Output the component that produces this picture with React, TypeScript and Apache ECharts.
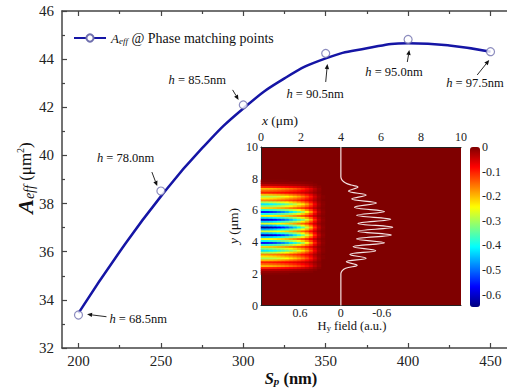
import React, { useEffect, useRef } from 'react';
import * as echarts from 'echarts';

const FONT = 'Liberation Serif';

// ---- main plot data ----
const spacing = [200, 250, 300, 350, 400, 450];
const aeffPoints = [33.37, 38.52, 42.1, 44.24, 44.82, 44.31];
const hLabels = ['68.5', '78.0', '85.5', '90.5', '95.0', '97.5'];
const fitX = [200, 225, 250, 275, 300, 325, 350, 375, 400, 425, 450];
const fitY = [33.45, 36.0, 38.3, 40.3, 41.95, 43.2, 44.03, 44.45, 44.66, 44.57, 44.31];
const xTicks = [200, 250, 300, 350, 400, 450];
const xMinorTicks = [225, 275, 325, 375, 425];

// ---- inset data ----
const fieldTicks = [0.6, 0, -0.6];
const colorbarTicks = [0, -0.1, -0.2, -0.3, -0.4, -0.5, -0.6];
const profileY = [10, 8.1, 7.9, 7.73, 7.6, 7.48, 7.22, 6.97, 6.72, 6.47, 6.2, 5.93, 5.69, 5.44, 5.18, 4.93, 4.69, 4.45, 4.2, 3.96, 3.71, 3.46, 3.22, 2.98, 2.76, 2.54, 2.35, 2.2, 2.0, 0];
const profileHy = [0, 0, -0.02, -0.07, -0.15, -0.25, -0.11, -0.37, -0.16, -0.52, -0.2, -0.64, -0.23, -0.73, -0.25, -0.76, -0.25, -0.74, -0.23, -0.64, -0.18, -0.51, -0.13, -0.37, -0.08, -0.24, -0.07, -0.02, 0, 0];
// heatmap: 50 columns (0.2 um) x 82 rows (10/82 um)
const HEAT_COLS = 50;
const HEAT_ROWS = 82;
const ROW_START = 16;
const rowProfile = [
  -0.005, -0.015, -0.04, -0.1,
  -0.2, -0.15, -0.1, -0.2,
  -0.3, -0.23, -0.17, -0.3,
  -0.42, -0.32, -0.22, -0.39,
  -0.56, -0.4, -0.25, -0.44,
  -0.62, -0.45, -0.27, -0.46,
  -0.64, -0.46, -0.27, -0.44,
  -0.6, -0.43, -0.25, -0.4,
  -0.56, -0.39, -0.22, -0.32,
  -0.42, -0.3, -0.17, -0.23,
  -0.3, -0.2, -0.1, -0.15,
  -0.2, -0.1, -0.04, -0.015, -0.005,
];
const colEnvelope = [1.0, 0.99, 0.97, 0.94, 0.9, 0.86, 0.81, 0.75, 0.69, 0.62, 0.54, 0.44, 0.32, 0.18, 0.07, 0.02];

const jet = ['#00007f', '#0000ff', '#007fff', '#00ffff', '#7fff7f', '#ffff00', '#ff7f00', '#ff0000', '#7f0000'];

// annotation layout (pixel offsets from each point)
const annot = [
  { t: [31, 4], a: [28, 1.7], b: [8.6, -0.7] },
  { t: [-64, -33], a: [-9, -19], b: [-3.7, -5] },
  { t: [-74.7, -25], a: [-10.7, -15], b: [-4.7, -5] },
  { t: [-39.3, 40.6], a: [0, 28.6], b: [1.7, 10.6] },
  { t: [-42.8, 32.6], a: [-0.8, 22.6], b: [1.2, 10.6] },
  { t: [-44.3, 31.3], a: [-13.3, 23.3], b: [-1.3, 8.3] },
];

const AX = '#444';

export default function App() {
  const ref = useRef<HTMLDivElement>(null);
  useEffect(() => {
    document.body.style.margin = '0';
    const chart = echarts.init(ref.current!, null, { renderer: 'svg' });

    const heatData: number[][] = [];
    rowProfile.forEach((rv, k) => {
      colEnvelope.forEach((cv, j) => {
        const v = rv * cv;
        if (v < -0.004) heatData.push([j, ROW_START + k, v]);
      });
    });
    const xCats = Array.from({ length: HEAT_COLS }, (_, i) => String(i));
    const yCats = Array.from({ length: HEAT_ROWS }, (_, i) => String(i));

    const lbl = { fontFamily: FONT, color: '#222' };

    chart.setOption({
      animation: false,
      backgroundColor: '#fff',
      textStyle: { fontFamily: FONT },
      grid: [
        { left: 62, top: 11, width: 451, height: 337 },
        { left: 261, top: 147, width: 200, height: 158.5, show: true, backgroundColor: '#7f0000', borderWidth: 0 },
        { left: 470, top: 147, width: 10, height: 160 },
      ],
      legend: {
        data: ['Aeff'],
        left: 73,
        top: 31,
        padding: 0,
        itemWidth: 32,
        itemHeight: 9,
        formatter: () => '{a|A}{b|eff}{c| @ Phase matching points}',
        textStyle: {
          fontFamily: FONT,
          fontSize: 14,
          color: '#111',
          rich: {
            a: { fontFamily: FONT, fontStyle: 'italic', fontSize: 13, color: '#111' },
            b: { fontFamily: FONT, fontStyle: 'italic', fontSize: 9, color: '#111', padding: [5, 0, 0, 0] },
            c: { fontFamily: FONT, fontSize: 14, color: '#111' },
          },
        },
      },
      visualMap: {
        type: 'continuous',
        min: -0.65,
        max: 0,
        seriesIndex: 2,
        orient: 'vertical',
        left: 470,
        top: 147,
        itemWidth: 10,
        itemHeight: 160,
        padding: 0,
        calculable: false,
        hoverLink: false,
        inRange: { color: jet },
      },
      xAxis: [
        {
          type: 'value', gridIndex: 0, min: 190, max: 460, position: 'bottom',
          axisLine: { show: true, onZero: false, lineStyle: { color: AX, width: 1.5 } },
          axisTick: { show: true, inside: true, length: 5, customValues: xTicks, lineStyle: { color: AX, width: 1.2 } },
          axisLabel: { customValues: xTicks, fontSize: 15, margin: 5, ...lbl },
          splitLine: { show: false },
        },
        {
          type: 'value', gridIndex: 0, min: 190, max: 460, position: 'top',
          axisLine: { show: true, onZero: false, lineStyle: { color: AX, width: 1.5 } },
          axisTick: { show: true, inside: true, length: 5, customValues: xTicks, lineStyle: { color: AX, width: 1.2 } },
          axisLabel: { show: false },
          splitLine: { show: false },
        },
        {
          type: 'value', gridIndex: 0, min: 190, max: 460, position: 'bottom',
          axisLine: { show: false, onZero: false },
          axisTick: { show: true, inside: true, length: 3, customValues: xMinorTicks, lineStyle: { color: AX, width: 1.2 } },
          axisLabel: { show: false },
          splitLine: { show: false },
        },
        {
          type: 'value', gridIndex: 0, min: 190, max: 460, position: 'top',
          axisLine: { show: false, onZero: false },
          axisTick: { show: true, inside: true, length: 3, customValues: xMinorTicks, lineStyle: { color: AX, width: 1.2 } },
          axisLabel: { show: false },
          splitLine: { show: false },
        },
        {
          type: 'value', gridIndex: 1, min: 0, max: 10, interval: 2, position: 'top',
          axisLine: { show: true, onZero: false, lineStyle: { color: '#222', width: 1 } },
          axisTick: { show: false },
          axisLabel: { fontSize: 12, margin: 4, ...lbl },
          splitLine: { show: false },
        },
        {
          type: 'value', gridIndex: 1, min: -1.76, max: 1.17, inverse: true, position: 'bottom',
          axisLine: { show: true, onZero: false, lineStyle: { color: '#222', width: 1 } },
          axisTick: { show: false },
          axisLabel: {
            customValues: fieldTicks, fontSize: 12, margin: 1, ...lbl,
            formatter: (v: number) => (v === 0 ? '0' : v.toFixed(1)),
          },
          splitLine: { show: false },
        },
        { type: 'category', gridIndex: 1, data: xCats, show: false },
        { type: 'value', gridIndex: 2, show: false, min: 0, max: 1 },
      ],
      yAxis: [
        {
          type: 'value', gridIndex: 0, min: 32, max: 46, interval: 2,
          axisLine: { show: true, onZero: false, lineStyle: { color: AX, width: 1.5 } },
          axisTick: { show: true, inside: true, length: 5, lineStyle: { color: AX, width: 1.2 } },
          minorTick: { show: true, splitNumber: 2, length: 3, lineStyle: { color: AX, width: 1.2 } },
          axisLabel: { fontSize: 15, margin: 8, ...lbl },
          splitLine: { show: false },
          minorSplitLine: { show: false },
        },
        {
          type: 'value', gridIndex: 1, min: 0, max: 10, interval: 2,
          axisLine: { show: true, onZero: false, lineStyle: { color: '#222', width: 1 } },
          axisTick: { show: false },
          axisLabel: { fontSize: 12, margin: 3, ...lbl },
          splitLine: { show: false },
        },
        { type: 'category', gridIndex: 1, data: yCats, show: false },
        {
          type: 'value', gridIndex: 2, min: -0.65, max: 0, position: 'right',
          axisLine: { show: false },
          axisTick: { show: false },
          axisLabel: {
            customValues: colorbarTicks, fontSize: 12, margin: 2, ...lbl,
            formatter: (v: number) => (v === 0 ? '0' : v.toFixed(1)),
          },
          splitLine: { show: false },
        },
      ],
      series: [
        {
          name: 'Aeff',
          type: 'line',
          xAxisIndex: 0,
          yAxisIndex: 0,
          data: fitX.map((x, i) => [x, fitY[i]]),
          smooth: true,
          symbol: 'circle',
          showSymbol: false,
          lineStyle: { color: '#1515a5', width: 2.5 },
          itemStyle: { color: '#fff', borderColor: '#6f6fae', borderWidth: 1.2 },
          z: 3,
          silent: true,
        },
        {
          type: 'scatter',
          xAxisIndex: 0,
          yAxisIndex: 0,
          data: spacing.map((x, i) => [x, aeffPoints[i]]),
          symbol: 'circle',
          symbolSize: 8,
          itemStyle: { color: '#fff', borderColor: '#6f6fae', borderWidth: 1.2 },
          z: 4,
          silent: true,
        },
        {
          type: 'heatmap',
          xAxisIndex: 6,
          yAxisIndex: 2,
          data: heatData,
          silent: true,
          emphasis: { disabled: true },
        },
        {
          type: 'line',
          xAxisIndex: 5,
          yAxisIndex: 1,
          data: profileHy.map((h, i) => [h, profileY[i]]),
          smooth: 0.4,
          showSymbol: false,
          symbol: 'none',
          lineStyle: { color: '#f4e2e2', width: 1.2 },
          z: 5,
          silent: true,
        },
      ],
    });

    // graphics: titles and annotations
    const g: any[] = [];
    const rt = (o: any) => ({ fontFamily: FONT, fill: '#111', ...o });
    g.push({
      type: 'text', x: 25, y: 178, rotation: Math.PI / 2,
      style: {
        text: '{a|A}{b|eff}{c| (μm}{d|2}{c|)}', align: 'center', verticalAlign: 'middle',
        rich: {
          a: rt({ fontSize: 22, fontWeight: 'bold', fontStyle: 'italic' }),
          b: rt({ fontSize: 14, fontStyle: 'italic', padding: [9, 0, 0, 0] }),
          c: rt({ fontSize: 17 }),
          d: rt({ fontSize: 10, padding: [0, 0, 9, 0] }),
        },
      },
    });
    g.push({
      type: 'text', x: 291, y: 378,
      style: {
        text: '{a|S}{b|p}{c| (nm)}', align: 'center', verticalAlign: 'middle',
        rich: {
          a: rt({ fontSize: 16.5, fontWeight: 'bold', fontStyle: 'italic' }),
          b: rt({ fontSize: 11, fontWeight: 'bold', fontStyle: 'italic', padding: [6, 0, 0, 0] }),
          c: rt({ fontSize: 16.5, fontWeight: 'bold' }),
        },
      },
    });
    g.push({
      type: 'text', x: 280, y: 120,
      style: {
        text: '{a|x}{c| (μm)}', align: 'center', verticalAlign: 'middle',
        rich: { a: rt({ fontSize: 13.5, fontStyle: 'italic' }), c: rt({ fontSize: 13.5 }) },
      },
    });
    g.push({
      type: 'text', x: 233, y: 226, rotation: Math.PI / 2,
      style: {
        text: '{a|y}{c| (μm)}', align: 'center', verticalAlign: 'middle',
        rich: { a: rt({ fontSize: 13.5, fontStyle: 'italic' }), c: rt({ fontSize: 13.5 }) },
      },
    });
    g.push({
      type: 'text', x: 352, y: 326,
      style: {
        text: '{a|H}{b|y}{c| field (a.u.)}', align: 'center', verticalAlign: 'middle',
        rich: {
          a: rt({ fontSize: 12.5 }),
          b: rt({ fontSize: 8.5, padding: [4, 0, 0, 0] }),
          c: rt({ fontSize: 12.5 }),
        },
      },
    });

    spacing.forEach((x, i) => {
      const p = chart.convertToPixel({ xAxisIndex: 0, yAxisIndex: 0 }, [x, aeffPoints[i]]) as number[];
      const an = annot[i];
      g.push({
        type: 'text', x: p[0] + an.t[0], y: p[1] + an.t[1],
        style: {
          text: `{i|h}{t| = ${hLabels[i]}nm}`, align: 'left', verticalAlign: 'middle',
          rich: { i: rt({ fontSize: 12.5, fontStyle: 'italic' }), t: rt({ fontSize: 12.5 }) },
        },
      });
      const sx = p[0] + an.a[0], sy = p[1] + an.a[1];
      const ex = p[0] + an.b[0], ey = p[1] + an.b[1];
      const dx = ex - sx, dy = ey - sy;
      const len = Math.sqrt(dx * dx + dy * dy);
      const ux = dx / len, uy = dy / len;
      const hl = 5, hw = 2.2;
      const bx = ex - ux * hl, by = ey - uy * hl;
      g.push({
        type: 'line', shape: { x1: sx, y1: sy, x2: bx, y2: by },
        style: { stroke: '#111', lineWidth: 0.9 },
      });
      g.push({
        type: 'polygon',
        shape: { points: [[ex, ey], [bx - uy * hw, by + ux * hw], [bx + uy * hw, by - ux * hw]] },
        style: { fill: '#111' },
      });
    });

    chart.setOption({ graphic: g });

    return () => chart.dispose();
  }, []);
  return <div ref={ref} style={{ width: 507, height: 391, background: '#fff' }} />;
}
